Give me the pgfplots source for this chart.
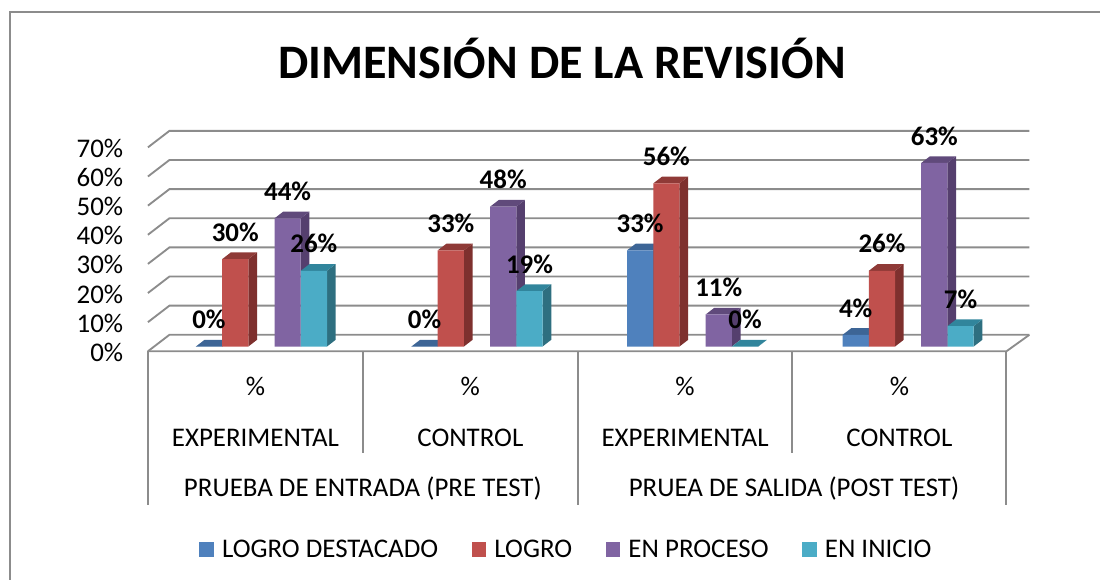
\documentclass[border=0pt]{standalone}
\usepackage{pgfplots}
\pgfplotsset{compat=1.18}
\usepackage{pgfplotstable}
\usepackage{fontspec}
\setmainfont{Carlito}

\definecolor{bluef}{HTML}{4F81BD}
\definecolor{bluet}{HTML}{3D6596}
\definecolor{blues}{HTML}{3A5F8B}
\definecolor{redf}{HTML}{C0504D}
\definecolor{redt}{HTML}{8F3A37}
\definecolor{reds}{HTML}{7E302E}
\definecolor{purf}{HTML}{8064A2}
\definecolor{purt}{HTML}{604A7B}
\definecolor{purs}{HTML}{553F6E}
\definecolor{teaf}{HTML}{4BACC6}
\definecolor{teat}{HTML}{31859C}
\definecolor{teas}{HTML}{2E6F80}
\definecolor{linec}{HTML}{8C8C8C}

\pgfplotstableread{
g blue red purple teal
0 0 30 44 26
1 0 33 48 19
2 33 56 11 0
3 4 26 63 7
}\datatable

% px = 0.75pt; 1 x unit = 215.7px, 1 y unit = 2.915px
\newcommand\gridline[2]{\addplot[linec,line width=1.4pt,forget plot] coordinates {(-0.5271,#1)(-0.4274,#2)(3.5619,#2)};}
% side and top faces of one bar: group, offset, value, side colour, top colour
\newcommand\faces[5]{%
  \pgfmathsetmacro\xa{#1+#2-0.0607}%
  \pgfmathsetmacro\xb{#1+#2+0.0607}%
  \pgfmathsetmacro\xc{#1+#2+0.0607+0.0403}%
  \pgfmathsetmacro\xd{#1+#2-0.0607+0.0403}%
  \pgfmathsetmacro\yt{#3+2.3}%
  \addplot[fill=#4,draw=none,forget plot] coordinates {(\xb,0)(\xc,2.3)(\xc,\yt)(\xb,#3)} --cycle;
  \addplot[fill=#5,draw=none,forget plot] coordinates {(\xa,#3)(\xb,#3)(\xc,\yt)(\xd,\yt)} --cycle;
}
% invisible second pass so that the labels stay above all bars
\newcommand\barlabels[2]{%
  \addplot[draw=none,mark=none,forget plot,
    nodes near coords={\pgfmathprintnumber{\pgfplotspointmeta}\%},
    nodes near coords align={anchor=center,yshift=20.25pt},
    every node near coord/.append style={font=\fontsize{20.2}{22}\selectfont\bfseries,text=black}]
    table[x expr=\thisrow{g}+#2,y=#1] {\datatable};
}
\newcommand\sepline[3]{\addplot[linec,line width=1.4pt,forget plot] coordinates {(#1,#2)(#1,#3)};}

\begin{document}
\begin{tikzpicture}[txt/.style={font=\fontsize{20.2}{22}\selectfont}]
\begin{axis}[
  scale only axis,
  width=644.25pt, height=166.125pt,
  xmin=-0.5271, xmax=3.4553,
  ymin=-1.647, ymax=74.34,
  clip=false,
  axis line style={draw=none},
  xtick=\empty,
  ytick={0,10,20,30,40,50,60,70},
  tick style={draw=none},
  major tick length=0pt,
  yticklabel={\pgfmathprintnumber{\tick}\%},
  /pgf/number format/assume math mode=true,
  yticklabel style={font=\fontsize{20.2}{22}\selectfont,xshift=-15pt,yshift=-4.3pt},
  legend style={draw=none,fill=none,at={(axis cs:1.415,-69.6)},anchor=center,
    legend columns=4,font=\fontsize{20.2}{22}\selectfont,
    /tikz/every odd column/.style={column sep=4pt},
    /tikz/every even column/.style={column sep=23pt}},
  legend image code/.code={\fill[#1] (0pt,-5.6pt) rectangle (11.25pt,5.6pt);},
]
% frame and invisible page rectangle
\path (axis cs:-1.2133,-80.03) rectangle (axis cs:3.8911,118.94);
\addplot[linec,line width=1pt,forget plot] coordinates {(-1.1669,-80.03)(-1.1669,114.83)(3.8911,114.83)};
% walls
\gridline{-1.647}{4.013}
\gridline{8.353}{14.013}
\gridline{18.353}{24.013}
\gridline{28.353}{34.013}
\gridline{38.353}{44.013}
\gridline{48.353}{54.013}
\gridline{58.353}{64.013}
\gridline{68.353}{74.013}
\addplot[linec,line width=1.4pt,forget plot] coordinates {(-0.5271,-1.647)(3.4553,-1.647)(3.5619,4.013)};
% separators below the floor
\sepline{-0.5271}{-1.647}{-54.5}
\sepline{0.4701}{-1.647}{-36.5}
\sepline{1.4672}{-1.647}{-54.5}
\sepline{2.4624}{-1.647}{-36.5}
\sepline{3.4553}{-1.647}{-54.5}
% blue
\faces{0}{-0.2439}{0}{blues}{bluet}
\faces{1}{-0.2439}{0}{blues}{bluet}
\faces{2}{-0.2439}{33}{blues}{bluet}
\faces{3}{-0.2439}{4}{blues}{bluet}
\addplot[ybar,bar width=19.65pt,bar shift=-39.45pt,fill=bluef,draw=none] table[x=g,y=blue] {\datatable};
\addlegendentry{LOGRO DESTACADO}
% red
\faces{0}{-0.1219}{30}{reds}{redt}
\faces{1}{-0.1219}{33}{reds}{redt}
\faces{2}{-0.1219}{56}{reds}{redt}
\faces{3}{-0.1219}{26}{reds}{redt}
\addplot[ybar,bar width=19.65pt,bar shift=-19.725pt,fill=redf,draw=none] table[x=g,y=red] {\datatable};
\addlegendentry{LOGRO}
% purple
\faces{0}{0.1210}{44}{purs}{purt}
\faces{1}{0.1210}{48}{purs}{purt}
\faces{2}{0.1210}{11}{purs}{purt}
\faces{3}{0.1210}{63}{purs}{purt}
\addplot[ybar,bar width=19.65pt,bar shift=19.575pt,fill=purf,draw=none] table[x=g,y=purple] {\datatable};
\addlegendentry{EN PROCESO}
% teal
\faces{0}{0.2429}{26}{teas}{teat}
\faces{1}{0.2429}{19}{teas}{teat}
\faces{2}{0.2429}{0}{teas}{teat}
\faces{3}{0.2429}{7}{teas}{teat}
\addplot[ybar,bar width=19.65pt,bar shift=39.3pt,fill=teaf,draw=none] table[x=g,y=teal] {\datatable};
\addlegendentry{EN INICIO}
% data labels
\barlabels{blue}{-0.2439}
\barlabels{red}{-0.1219}
\barlabels{purple}{0.1210}
\barlabels{teal}{0.2429}
% category text
\node[font=\fontsize{36.1}{40}\selectfont\bfseries] at (axis cs:1.393,98.9) {DIMENSIÓN DE LA REVISIÓN};
\node[txt] at (axis cs:-0.0284,-13.6) {\%};
\node[txt] at (axis cs:0.9687,-13.6) {\%};
\node[txt] at (axis cs:1.9648,-13.6) {\%};
\node[txt] at (axis cs:2.9589,-13.6) {\%};
\node[txt] at (axis cs:-0.0284,-31.2) {EXPERIMENTAL};
\node[txt] at (axis cs:0.9687,-31.2) {CONTROL};
\node[txt] at (axis cs:1.9648,-31.2) {EXPERIMENTAL};
\node[txt] at (axis cs:2.9589,-31.2) {CONTROL};
\node[txt] at (axis cs:0.47,-48.8) {PRUEBA DE ENTRADA (PRE TEST)};
\node[txt] at (axis cs:2.47,-48.8) {PRUEA DE SALIDA (POST TEST)};
\end{axis}
\end{tikzpicture}
\end{document}
